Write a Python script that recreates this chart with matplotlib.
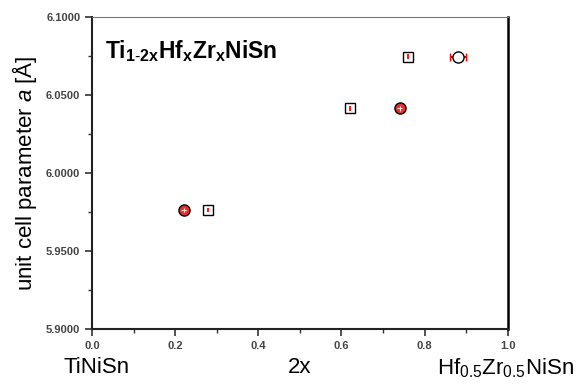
import matplotlib.pyplot as plt
from matplotlib.ticker import MultipleLocator, FormatStrFormatter

# lattice parameters: squares and circles
sq_x = [0.28, 0.62, 0.76]
sq_y = [5.9762, 6.0413, 6.0745]
sq_yerr = [0.0015, 0.0015, 0.0015]

circ_x = [0.22, 0.74]
circ_y = [5.9762, 6.0413]
circ_yerr = [0.0015, 0.0015]

open_x = [0.88]
open_y = [6.0745]
open_xerr = [0.02]

plt.rcParams["font.family"] = ["Liberation Sans", "DejaVu Sans"]
plt.rcParams["mathtext.fontset"] = "custom"
plt.rcParams["mathtext.rm"] = "Liberation Sans"
plt.rcParams["mathtext.it"] = "Liberation Sans:italic"
plt.rcParams["mathtext.bf"] = "Liberation Sans:bold"


def main():
    fig = plt.figure(figsize=(5.79, 3.92), dpi=100)
    ax = fig.add_axes([0.159, 0.161, 0.718, 0.796])

    # squares, red error bars on top of the marker
    ax.plot(sq_x, sq_y, "s", ms=6.5, mfc="white", mec="black", mew=1.0, zorder=3)
    ax.errorbar(sq_x, sq_y, yerr=sq_yerr, fmt="none", ecolor="red", elinewidth=1.3,
                capsize=0, zorder=4)

    # circles, red fill with a light cross
    ax.plot(circ_x, circ_y, "o", ms=8, mfc="#e83030", mec="black", mew=1.0, zorder=3)
    ax.errorbar(circ_x, circ_y, yerr=circ_yerr, xerr=[0.006, 0.006], fmt="none",
                ecolor="#ffdddd", elinewidth=0.8, capsize=0, zorder=4)

    # open circle with horizontal error bar
    ax.errorbar(open_x, open_y, xerr=open_xerr, fmt="o", ms=8, mfc="white", mec="black",
                mew=1.0, ecolor="red", elinewidth=1.4, capsize=3, capthick=1.4, zorder=3)

    ax.set_xlim(0.0, 1.0)
    ax.set_ylim(5.9, 6.1)
    ax.xaxis.set_major_locator(MultipleLocator(0.2))
    ax.xaxis.set_minor_locator(MultipleLocator(0.1))
    ax.yaxis.set_major_locator(MultipleLocator(0.05))
    ax.yaxis.set_minor_locator(MultipleLocator(0.025))
    ax.xaxis.set_major_formatter(FormatStrFormatter("%.1f"))
    ax.yaxis.set_major_formatter(FormatStrFormatter("%.4f"))
    ax.tick_params(which="major", direction="out", length=5, width=1.2,
                   labelsize=8, labelcolor="#444444", color="#333333")
    ax.tick_params(which="minor", direction="out", length=3, width=1.0, color="#333333")
    for lab in ax.get_xticklabels() + ax.get_yticklabels():
        lab.set_fontweight("bold")

    for side in ["left", "bottom"]:
        ax.spines[side].set_linewidth(1.5)
        ax.spines[side].set_color("#222222")
    ax.spines["top"].set_linewidth(0.8)
    ax.spines["top"].set_color("#777777")
    ax.spines["right"].set_linewidth(1.8)
    ax.spines["right"].set_color("black")

    ax.set_ylabel("unit cell parameter $a$ [Å]", fontsize=16, labelpad=5)
    ax.text(0.5, -0.125, "2x", transform=ax.transAxes, ha="center", va="center", fontsize=16)
    ax.text(0.012, -0.125, "TiNiSn", transform=ax.transAxes, ha="center", va="center",
            fontsize=16)
    ax.text(1.16, -0.125, "Hf$_{0.5}$Zr$_{0.5}$NiSn", transform=ax.transAxes, ha="right",
            va="center", fontsize=16)
    ax.text(0.03, 0.89, r"Ti$_{\mathbf{1\text{-}2x}}$Hf$_\mathbf{x}$Zr$_\mathbf{x}$NiSn",
            transform=ax.transAxes, ha="left", va="center", fontsize=16.5, fontweight="bold")

    fig.savefig("out.png", dpi=100)
    plt.close(fig)


if __name__ == "__main__":
    main()
